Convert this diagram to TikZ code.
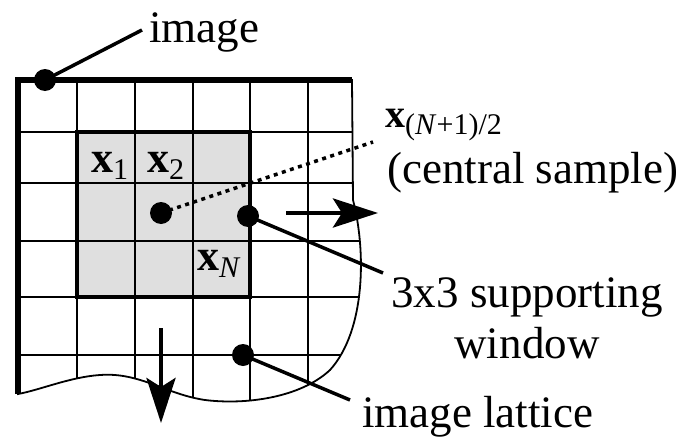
\documentclass[tikz,border=0pt]{standalone}
\usepackage{fontspec}
\setmainfont{Liberation Serif}
\usepackage{tikz}
\usetikzlibrary{arrows.meta,positioning}
\newcommand{\lowsub}[1]{\raisebox{-7pt}{\fontsize{30}{30}\selectfont #1}}
\newcommand{\vecx}[1]{{\bfseries x}\lowsub{#1}}
\newcommand{\latticeedge}{(18,80) -- (352,80) -- (353,200) .. controls (366,250) and (366,330) .. (330,370) .. controls (300,398) and (245,405) .. (205,400) .. controls (165,394) and (140,372) .. (100,375) .. controls (70,377) and (40,390) .. (18,394) -- cycle}

\begin{document}
\begin{tikzpicture}[x=1pt,y=-1pt,>={Stealth[length=45pt,width=29pt,inset=9pt]},
  dot/.style={circle,fill=black,inner sep=0pt,minimum size=22pt},
  lbl/.style={inner sep=0pt,anchor=base west,font=\fontsize{45}{51}\selectfont},
  xlbl/.style={lbl,font=\fontsize{44}{44}\selectfont},
  lead/.style={line width=3.5pt},
  gridline/.style={line width=1.8pt},
  move/.style={->,line width=4.5pt}]
\useasboundingbox (0,0) rectangle (682,436);
\begin{scope}
  \clip \latticeedge;
  \fill[gray!25] (77,132) rectangle (250,297);
  \foreach \y in {132,183,241,297,355}
    \draw[gridline] (0,\y) -- (380,\y);
  \foreach \x in {77,135,193,250,308}
    \draw[gridline] (\x,70) -- (\x,420);
\end{scope}
\draw[line width=4.5pt] (77,132) rectangle (250,297);
\draw[gridline] \latticeedge;
\draw[line width=6pt] (18,394) -- (18,80) -- (352,80);
\node[xlbl] (xone) at (91,172) {\vecx{1}};
\node[xlbl] (xtwo) at (147,172) {\vecx{2}};
\node[xlbl] (xlast) at (197,270) {\vecx{\textit{N}}};
\node[dot] (imgdot) at (45,80) {};
\node[dot] (ctrdot) at (161,213) {};
\node[dot] (windot) at (248,216) {};
\node[dot] (latdot) at (243,355) {};
\node[lbl] (imglbl) at (149,42) {image};
\node[xlbl,font=\fontsize{40}{40}\selectfont] (ctrlbl) at (385,127) {\vecx{(\textit{N}+1)/2}};
\node[lbl] (ctrtxt) at (387,183) {(central sample)};
\node[lbl,anchor=base] (winlbl) at (527,307) {3x3 supporting};
\node[lbl,anchor=base] (wintxt) at (527,358) {window};
\node[lbl] (latlbl) at (362,427) {image lattice};
\coordinate (imgtip) at (142,30);
\coordinate (ctrtip) at (373,142);
\coordinate (wintip) at (383,273);
\coordinate (lattip) at (350,400);
\coordinate (rgtfrom) at (286,213);
\coordinate (rgtto) at (378,213);
\coordinate (dwnfrom) at (161,328);
\coordinate (dwnto) at (161,423);
\draw[lead] (imgdot.center) -- (imgtip);
\draw[lead,dash pattern=on 4pt off 4.5pt] (ctrdot.center) -- (ctrtip);
\draw[lead] (windot.center) -- (wintip);
\draw[lead] (latdot.center) -- (lattip);
\draw[move] (rgtfrom) -- (rgtto);
\draw[move] (dwnfrom) -- (dwnto);
\end{tikzpicture}
\end{document}
